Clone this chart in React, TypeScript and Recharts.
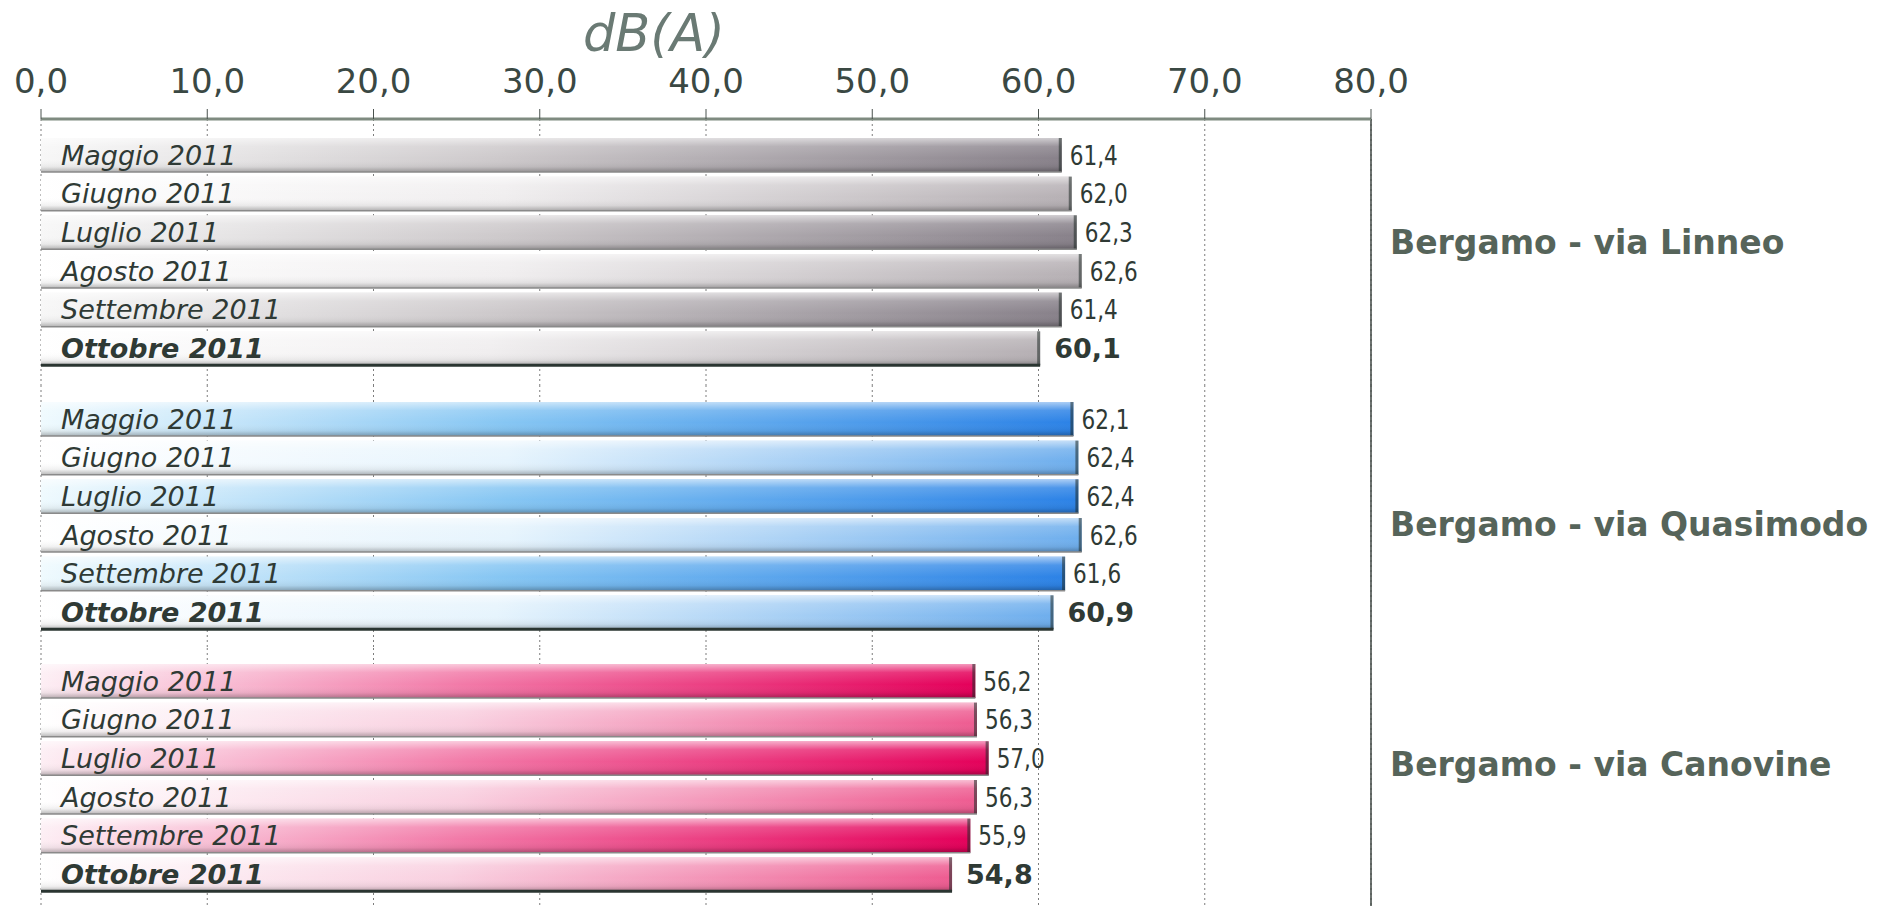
import React from "react";
import {
  BarChart,
  Bar,
  XAxis,
  YAxis,
  CartesianGrid,
  ReferenceLine,
  LabelList,
} from "recharts";

const months = [
  "Maggio 2011",
  "Giugno 2011",
  "Luglio 2011",
  "Agosto 2011",
  "Settembre 2011",
  "Ottobre 2011",
];
const linneo = [61.4, 62.0, 62.3, 62.6, 61.4, 60.1];
const quasimodo = [62.1, 62.4, 62.4, 62.6, 61.6, 60.9];
const canovine = [56.2, 56.3, 57.0, 56.3, 55.9, 54.8];
const stations = [
  "Bergamo - via Linneo",
  "Bergamo - via Quasimodo",
  "Bergamo - via Canovine",
];
const xTicks = [0, 10, 20, 30, 40, 50, 60, 70, 80];

const FONT = "'DejaVu Sans', Verdana, sans-serif";
const TEXT = "#2f3a35";

const fmt = (v: number) => v.toFixed(1).replace(".", ",");

// colour ramps per station: [dark row, light row]
const palettes: Record<string, { d: string[]; l: string[] }> = {
  grey: {
    d: ["#f7f7f7", "#cdc9cb", "#88818a"],
    l: ["#ffffff", "#f0eeef", "#b6b0b4"],
  },
  blue: {
    d: ["#effafe", "#86c6f3", "#2c82e6"],
    l: ["#ffffff", "#e6f4fd", "#6eaeed"],
  },
  pink: {
    d: ["#fdeef4", "#f27aa8", "#e4005a"],
    l: ["#ffffff", "#f9d0e0", "#ee5c91"],
  },
};

function Defs({ fam }: { fam: string }) {
  const p = palettes[fam];
  return (
    <defs>
      {(["d", "l"] as const).map((k) => (
        <linearGradient key={k} id={`${fam}-${k}`} x1="0" y1="0" x2="1" y2="0">
          <stop offset="0%" stopColor={p[k][0]} />
          <stop offset="45%" stopColor={p[k][1]} />
          <stop offset="100%" stopColor={p[k][2]} />
        </linearGradient>
      ))}
      <linearGradient id={`${fam}-shine`} x1="0" y1="0" x2="0" y2="1">
        <stop offset="0%" stopColor="#ffffff" stopOpacity={0.6} />
        <stop offset="25%" stopColor="#ffffff" stopOpacity={0.15} />
        <stop offset="60%" stopColor="#ffffff" stopOpacity={0} />
        <stop offset="85%" stopColor="#000000" stopOpacity={0.06} />
        <stop offset="100%" stopColor="#000000" stopOpacity={0.28} />
      </linearGradient>
    </defs>
  );
}

const makeShape = (fam: string) => (props: any) => {
  const { x, y, width, height, index } = props;
  const dark = index % 2 === 0;
  const last = index === months.length - 1;
  return (
    <g>
      <rect x={x} y={y} width={width} height={height} fill={`url(#${fam}-${dark ? "d" : "l"})`} />
      <rect x={x} y={y} width={width} height={height} fill={`url(#${fam}-shine)`} />
      <rect x={x + width - 3} y={y} width={3} height={height} fill="#1f2a26" opacity={0.55} />
      <line
        x1={x}
        x2={x + width}
        y1={y + height}
        y2={y + height}
        stroke={last ? "#2a3531" : "#8a8a8a"}
        strokeWidth={last ? 3 : 1.5}
      />
    </g>
  );
};

const MonthLabel = (props: any) => {
  const { x, y, height, value, index } = props;
  const last = index === months.length - 1;
  return (
    <text
      x={x + 20}
      y={y + height / 2}
      dy="0.36em"
      fontFamily={FONT}
      fontSize={27}
      fontStyle="italic"
      fontWeight={last ? "bold" : "normal"}
      fill={TEXT}
    >
      {value}
    </text>
  );
};

// the plain values are drawn narrow, the October (bold) ones at full width
const ValueLabel = (props: any) => {
  const { x, y, width, height, value, index } = props;
  const last = index === months.length - 1;
  const tx = x + width + (last ? 14 : 8);
  const ty = y + height / 2;
  return (
    <text
      transform={`translate(${tx},${ty}) scale(${last ? 1 : 0.8},1)`}
      x={0}
      y={0}
      dy="0.36em"
      fontFamily={FONT}
      fontSize={27}
      fontWeight={last ? "bold" : "normal"}
      fill={TEXT}
    >
      {fmt(value)}
    </text>
  );
};

function Group({
  values,
  fam,
  height,
  pad,
  showAxis,
}: {
  values: number[];
  fam: string;
  height: number;
  pad: { top: number; bottom: number };
  showAxis: boolean;
}) {
  const rows = months.map((m, i) => ({ month: m, value: values[i] }));
  return (
    <BarChart
      layout="vertical"
      width={1882}
      height={height}
      data={rows}
      margin={{ top: 0, right: 511, left: 41, bottom: 0 }}
      barSize={34}
    >
      <Defs fam={fam} />
      <CartesianGrid horizontal={false} stroke="#7d7d7d" strokeDasharray="2 3" />
      <XAxis
        type="number"
        domain={[0, 80]}
        ticks={xTicks}
        orientation="top"
        hide={!showAxis}
        height={119}
        tickFormatter={fmt}
        axisLine={{ stroke: "#7f8b80", strokeWidth: 3 }}
        tickLine={{ stroke: "#4a524e" }}
        tickSize={10}
        tickMargin={16}
        tick={{ fontFamily: FONT, fontSize: 34, fill: "#3a4843" }}
      />
      <YAxis
        type="category"
        dataKey="month"
        width={0}
        tick={false}
        tickLine={false}
        axisLine={{ stroke: "#4b5966", strokeWidth: 2 }}
        padding={pad}
      />
      <ReferenceLine x={80} stroke="#3c4440" strokeWidth={1.5} />
      <Bar dataKey="value" shape={makeShape(fam)} isAnimationActive={false}>
        <LabelList dataKey="month" content={MonthLabel} />
        <LabelList dataKey="value" content={ValueLabel} />
      </Bar>
    </BarChart>
  );
}

const stationY = [242, 524, 764];

export default function App() {
  return (
    <div style={{ position: "relative", width: 1882, height: 906, overflow: "hidden", background: "#fff" }}>
      <style>{"body{margin:0}"}</style>
      <Group values={linneo} fam="grey" height={385} pad={{ top: 17, bottom: 17 }} showAxis />
      <Group values={quasimodo} fam="blue" height={263} pad={{ top: 15, bottom: 16 }} showAxis={false} />
      <Group values={canovine} fam="pink" height={258} pad={{ top: 14, bottom: 12 }} showAxis={false} />
      <div
        style={{
          position: "absolute",
          left: 654,
          top: 49,
          transform: "translate(-50%, -80%)",
          fontFamily: FONT,
          fontStyle: "italic",
          fontSize: 51,
          color: "#6a7a74",
          lineHeight: 1,
        }}
      >
        dB(A)
      </div>
      {stations.map((s, i) => (
        <div
          key={s}
          style={{
            position: "absolute",
            left: 1390,
            top: stationY[i],
            transform: "translateY(-50%)",
            fontFamily: FONT,
            fontWeight: "bold",
            fontSize: 33,
            color: "#56645a",
            whiteSpace: "nowrap",
            lineHeight: 1,
          }}
        >
          {s}
        </div>
      ))}
    </div>
  );
}
